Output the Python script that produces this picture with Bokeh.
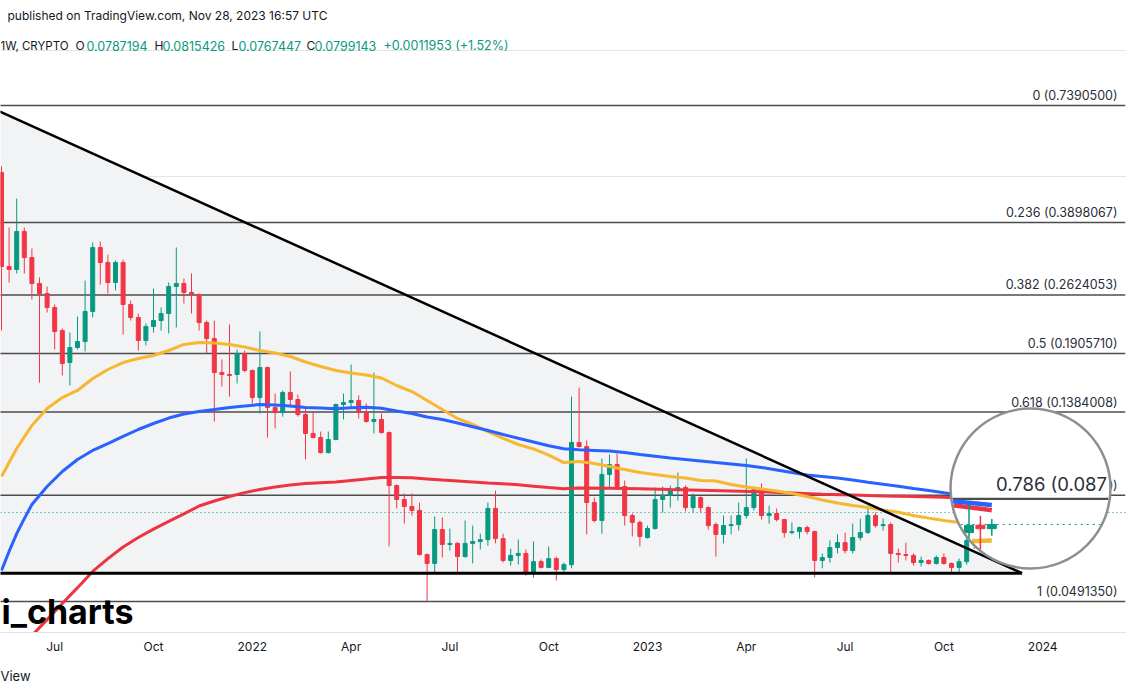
import math
from datetime import datetime, timedelta
from bokeh.plotting import figure
from bokeh.models import Range1d, FixedTicker, Title
from bokeh.core.properties import value
from bokeh.embed import file_html
from bokeh.resources import INLINE

# ---------------- data (weekly candles) ----------------
first_week = "2021-05-17"
opens = [0.5124, 0.3066, 0.3016, 0.3712, 0.3220, 0.2794, 0.2645, 0.2450, 0.2161, 0.1814,
         0.1969, 0.2035, 0.2397, 0.3401, 0.3133, 0.2809, 0.3133, 0.2491, 0.2320, 0.2046,
         0.2209, 0.2282, 0.2371, 0.2748, 0.2794, 0.2660, 0.2631, 0.2257, 0.2068, 0.1718,
         0.1699, 0.1699, 0.1906, 0.1737, 0.1498, 0.1765, 0.1419, 0.1380, 0.1540, 0.1482,
         0.1365, 0.1231, 0.1204, 0.1109, 0.1191, 0.1442, 0.1458, 0.1474, 0.1380, 0.1314,
         0.1329, 0.1237, 0.0926, 0.0858, 0.0826, 0.0808, 0.0635, 0.0605, 0.0728, 0.0671,
         0.0675, 0.0628, 0.0675, 0.0682, 0.0689, 0.0817, 0.0693, 0.0615, 0.0632, 0.0639,
         0.0573, 0.0611, 0.0592, 0.0621, 0.0585, 0.0601, 0.1172, 0.1146, 0.0844, 0.0765,
         0.0984, 0.1039, 0.0921, 0.0786, 0.0757, 0.0697, 0.0732, 0.0858, 0.0877, 0.0901,
         0.0916, 0.0821, 0.0867, 0.0821, 0.0748, 0.0709, 0.0744, 0.0748, 0.0786, 0.0821,
         0.0906, 0.0786, 0.0795, 0.0769, 0.0716, 0.0720, 0.0736, 0.0720, 0.0615, 0.0625,
         0.0660, 0.0678, 0.0649, 0.0697, 0.0716, 0.0786, 0.0744, 0.0748, 0.0639, 0.0635,
         0.0632, 0.0608, 0.0615, 0.0605, 0.0625, 0.0605, 0.0592, 0.0611, 0.0686, 0.0690,
         0.0776, 0.0797, 0.0787194]
highs = [0.5300, 0.3794, 0.4446, 0.3794, 0.3383, 0.2887, 0.2748, 0.2491, 0.2185, 0.2137,
         0.2333, 0.2840, 0.3495, 0.3515, 0.3273, 0.3168, 0.3185, 0.2546, 0.2371, 0.2245,
         0.2718, 0.2450, 0.2809, 0.3401, 0.2871, 0.2951, 0.2645, 0.2282, 0.2282, 0.1844,
         0.2233, 0.1948, 0.1937, 0.1745, 0.2149, 0.1775, 0.1531, 0.1557, 0.1727, 0.1523,
         0.1419, 0.1380, 0.1244, 0.1244, 0.1450, 0.1531, 0.1794, 0.1515, 0.1450, 0.1718,
         0.1373, 0.1244, 0.0931, 0.0887, 0.0887, 0.0844, 0.0639, 0.0782, 0.0778, 0.0732,
         0.0680, 0.0765, 0.0744, 0.0712, 0.0844, 0.0901, 0.0712, 0.0656, 0.0689, 0.0653,
         0.0682, 0.0618, 0.0664, 0.0628, 0.0608, 0.1506, 0.1582, 0.1185, 0.0867, 0.1073,
         0.1097, 0.1103, 0.0952, 0.0795, 0.0765, 0.0744, 0.0916, 0.0921, 0.0926, 0.0994,
         0.0926, 0.0887, 0.0872, 0.0826, 0.0757, 0.0786, 0.0786, 0.0844, 0.1073, 0.0921,
         0.0936, 0.0830, 0.0817, 0.0772, 0.0757, 0.0740, 0.0744, 0.0724, 0.0639, 0.0686,
         0.0709, 0.0716, 0.0752, 0.0773, 0.0830, 0.0799, 0.0773, 0.0757, 0.0656, 0.0678,
         0.0639, 0.0628, 0.0618, 0.0632, 0.0639, 0.0608, 0.0621, 0.0712, 0.0700, 0.0800,
         0.0862, 0.0825, 0.0815426]
lows = [0.2161, 0.2809, 0.2951, 0.2951, 0.2560, 0.1626, 0.2384, 0.1948, 0.1690, 0.1600,
        0.1948, 0.1927, 0.2320, 0.2778, 0.2645, 0.2689, 0.2114, 0.2282, 0.1937, 0.1991,
        0.2137, 0.2161, 0.2126, 0.2197, 0.2504, 0.2371, 0.2161, 0.1906, 0.1314, 0.1591,
        0.1506, 0.1617, 0.1718, 0.1450, 0.1373, 0.1204, 0.1265, 0.1350, 0.1419, 0.1350,
        0.1068, 0.1198, 0.1103, 0.1103, 0.1185, 0.1329, 0.1411, 0.1336, 0.1307, 0.1231,
        0.1231, 0.0664, 0.0817, 0.0752, 0.0786, 0.0632, 0.04914, 0.0573, 0.0625, 0.0649,
        0.0573, 0.0625, 0.0605, 0.0653, 0.0667, 0.0675, 0.0608, 0.0598, 0.0601, 0.0566,
        0.0560, 0.0589, 0.0589, 0.0551, 0.0573, 0.0589, 0.1140, 0.0709, 0.0757, 0.0712,
        0.0916, 0.0916, 0.0744, 0.0701, 0.0664, 0.0693, 0.0728, 0.0799, 0.0821, 0.0853,
        0.0804, 0.0799, 0.0799, 0.0728, 0.0628, 0.0675, 0.0709, 0.0724, 0.0773, 0.0808,
        0.0769, 0.0752, 0.0761, 0.0697, 0.0709, 0.0693, 0.0709, 0.0560, 0.0589, 0.0608,
        0.0639, 0.0639, 0.0639, 0.0686, 0.0712, 0.0736, 0.0724, 0.0573, 0.0608, 0.0615,
        0.0598, 0.0595, 0.0601, 0.0601, 0.0601, 0.0573, 0.0573, 0.0601, 0.0655, 0.0680,
        0.0738, 0.0710, 0.0767447]
closes = [0.3066, 0.3016, 0.3712, 0.3220, 0.2794, 0.2645, 0.2450, 0.2149, 0.1804, 0.1969,
          0.2035, 0.2397, 0.3401, 0.3133, 0.2809, 0.3133, 0.2491, 0.2320, 0.2046, 0.2209,
          0.2282, 0.2371, 0.2748, 0.2794, 0.2660, 0.2631, 0.2257, 0.2068, 0.1718, 0.1699,
          0.1690, 0.1906, 0.1737, 0.1498, 0.1765, 0.1419, 0.1380, 0.1540, 0.1482, 0.1365,
          0.1231, 0.1204, 0.1109, 0.1191, 0.1442, 0.1458, 0.1474, 0.1380, 0.1314, 0.1329,
          0.1237, 0.0926, 0.0858, 0.0826, 0.0808, 0.0635, 0.0605, 0.0728, 0.0671, 0.0675,
          0.0628, 0.0675, 0.0682, 0.0689, 0.0817, 0.0693, 0.0615, 0.0632, 0.0639, 0.0573,
          0.0611, 0.0592, 0.0621, 0.0585, 0.0601, 0.1172, 0.1146, 0.0844, 0.0765, 0.0984,
          0.1039, 0.0921, 0.0786, 0.0757, 0.0701, 0.0732, 0.0858, 0.0877, 0.0901, 0.0916,
          0.0821, 0.0872, 0.0821, 0.0744, 0.0709, 0.0744, 0.0748, 0.0786, 0.0821, 0.0906,
          0.0786, 0.0795, 0.0769, 0.0716, 0.0720, 0.0736, 0.0720, 0.0615, 0.0625, 0.0660,
          0.0678, 0.0649, 0.0697, 0.0716, 0.0786, 0.0744, 0.0748, 0.0639, 0.0635, 0.0632,
          0.0608, 0.0615, 0.0605, 0.0625, 0.0605, 0.0592, 0.0611, 0.0686, 0.0690, 0.0776,
          0.0797, 0.0787, 0.0799143]

# moving averages (week offset from first_week, value)
ma_yellow_weeks = list(range(0, 133, 2))
ma_yellow = [0.0973, 0.1134, 0.1286, 0.1411, 0.1498, 0.1557, 0.1662, 0.1746, 0.1814, 0.1854,
             0.1885, 0.1937, 0.2002, 0.2024, 0.2018, 0.2002, 0.1974, 0.1937, 0.1911, 0.1875,
             0.1819, 0.1775, 0.1737, 0.1713, 0.1694, 0.1667, 0.1600, 0.1548, 0.1474, 0.1403,
             0.1336, 0.1293, 0.1244, 0.1198, 0.1159, 0.1131, 0.1094, 0.1050, 0.1056, 0.1045,
             0.1028, 0.1011, 0.0994, 0.0984, 0.0973, 0.0965, 0.0952, 0.0949, 0.0931, 0.0919,
             0.0909, 0.0899, 0.0887, 0.0872, 0.0856, 0.0842, 0.0830, 0.0821, 0.0810, 0.0800,
             0.0786, 0.0775, 0.0765, 0.0757, 0.0752, 0.0752, 0.0754]
ma_blue_weeks = [0, 1, 2, 3] + list(range(4, 133, 2))
ma_blue = [0.0582, 0.0646, 0.0712, 0.0773, 0.0835, 0.0921, 0.1000, 0.1068, 0.1122, 0.1165,
           0.1211, 0.1258, 0.1300, 0.1339, 0.1369, 0.1388, 0.1403, 0.1419, 0.1430, 0.1442,
           0.1438, 0.1430, 0.1419, 0.1415, 0.1409, 0.1417, 0.1420, 0.1413, 0.1392, 0.1373,
           0.1347, 0.1329, 0.1303, 0.1277, 0.1251, 0.1224, 0.1199, 0.1175, 0.1151, 0.1132,
           0.1126, 0.1122, 0.1118, 0.1109, 0.1097, 0.1087, 0.1077, 0.1068, 0.1059, 0.1050,
           0.1042, 0.1033, 0.1022, 0.1008, 0.0994, 0.0981, 0.0973, 0.0965, 0.0954, 0.0943,
           0.0933, 0.0923, 0.0911, 0.0901, 0.0890, 0.0879, 0.0872, 0.0865, 0.0858]
ma_red_weeks = list(range(4, 77, 2)) + list(range(80, 133, 4))
ma_red = [0.0408, 0.0445, 0.0486, 0.0530, 0.0579, 0.0621, 0.0662, 0.0697, 0.0730, 0.0761,
          0.0793, 0.0828, 0.0851, 0.0872, 0.0891, 0.0906, 0.0919, 0.0929, 0.0936, 0.0940,
          0.0944, 0.0952, 0.0960, 0.0968, 0.0968, 0.0966, 0.0960, 0.0954, 0.0949, 0.0944,
          0.0939, 0.0935, 0.0930, 0.0923, 0.0916, 0.0910, 0.0914,
          0.0913, 0.0910, 0.0906, 0.0903, 0.0899, 0.0895, 0.0889, 0.0883, 0.0879, 0.0875,
          0.0872, 0.0869, 0.0860, 0.0842]

# fibonacci retracement drawing
fib_levels = ["0", "0.236", "0.382", "0.5", "0.618", "0.786", "1"]
fib_prices = [0.7390500, 0.3898067, 0.2624053, 0.1905710, 0.1384008, 0.0877740, 0.0491350]
fib_start = "2021-05-03"
fib_end = "2024-03-17"

# descending triangle drawing
tri_start = "2021-05-03"
tri_top = 0.7390500
tri_apex = "2023-12-13"
tri_base = 0.05735

# time axis
tick_dates = ["2021-07-05", "2021-10-04", "2022-01-03", "2022-04-04", "2022-07-04", "2022-10-03",
              "2023-01-02", "2023-04-03", "2023-07-03", "2023-10-02", "2024-01-01"]
tick_labels = ["Jul", "Oct", "2022", "Apr", "Jul", "Oct", "2023", "Apr", "Jul", "Oct", "2024"]

# legend texts
legend_symbol = "1W, CRYPTO"
legend_change = "+0.0011953 (+1.52%)"

# ---------------- helpers ----------------
EPOCH = datetime(1970, 1, 1)
def ms(d):
    return (d - EPOCH).total_seconds() * 1000.0
def day(s):
    return datetime.strptime(s, "%Y-%m-%d")

X_START = ms(datetime(2021, 5, 16, 1, 53))
X_END = ms(datetime(2024, 3, 18, 4, 24))
Y_TOP, Y_BOTTOM = 1.1381, 0.04148
FRAME_W, FRAME_H = 1126, 606
FL, FT = 0.0, 26.0   # frame position on the page
LT, LB = math.log(Y_TOP), math.log(Y_BOTTOM)
PX_PER_MS = FRAME_W / (X_END - X_START)

def to_px(t, v):
    return FL + (t - X_START) * PX_PER_MS, FT + (LT - math.log(v)) * FRAME_H / (LT - LB)
def from_px(x, y):
    return X_START + (x - FL) / PX_PER_MS, math.exp(LT - (y - FT) * (LT - LB) / FRAME_H)

GREEN, RED = "#089981", "#f23645"
C_YEL, C_BLUE, C_RED = "#f7b731", "#2962ff", "#ee3440"
FONT = "Inter"
TXT = "#131722"

t0 = day(first_week)
n = len(closes)
ct = [ms(t0 + timedelta(weeks=i)) for i in range(n)]
colors = [GREEN if c >= o else RED for o, c in zip(opens, closes)]

p = figure(x_axis_type="datetime", y_axis_type="log", y_axis_location=None,
           x_range=Range1d(X_START, X_END), y_range=Range1d(Y_BOTTOM, Y_TOP),
           frame_width=FRAME_W, frame_height=FRAME_H,
           min_border_left=0, min_border_right=14, min_border_top=26, min_border_bottom=62,
           output_backend="svg", toolbar_location=None,
           title="published on TradingView.com, Nov 28, 2023 16:57 UTC",
           background_fill_color="white", border_fill_color="white")
p.outline_line_color = None
p.xgrid.visible = False
p.title.text_font = FONT
p.title.text_font_size = "12px"
p.title.text_font_style = "normal"
p.title.text_color = TXT
p.title.standoff = 7
p.title.offset = 7

ax = p.xaxis[0]
tick_ms = [int(ms(day(d))) for d in tick_dates]
ax.ticker = FixedTicker(ticks=tick_ms)
ax.major_label_overrides = {t: lab for t, lab in zip(tick_ms, tick_labels)}
ax.major_tick_line_color = None
ax.minor_tick_line_color = None
ax.axis_line_color = "#e0e3eb"
ax.major_label_standoff = 0
ax.major_label_text_font = FONT
ax.major_label_text_font_size = "12px"
ax.major_label_text_color = TXT
p.add_layout(Title(text="View", align="left", text_font=FONT, text_font_size="13px",
                   text_font_style="normal", text_color=TXT, standoff=18), "below")

# triangle fill
ts, ta = ms(day(tri_start)), ms(day(tri_apex))
p.patch([ts, ta, ts], [tri_top, tri_base, tri_base], fill_color="#f2f3f5", line_color=None)

# fib lines + labels
fs, fe = ms(day(fib_start)), ms(day(fib_end))
p.segment(x0=[fs] * len(fib_prices), y0=fib_prices, x1=[fe] * len(fib_prices), y1=fib_prices,
          line_color="#4c4c4c", line_width=1.5)
fib_text = ["%s (%.7f)" % (l, v) for l, v in zip(fib_levels, fib_prices)]
lab_x = from_px(1117, 0)[0]
p.text(x=[lab_x] * len(fib_prices), y=fib_prices, text=fib_text, text_align="right",
       text_baseline="middle", y_offset=-10, text_font=value(FONT), text_font_size="12.5px",
       text_color="#2a2e39")

# current price dotted line
p.line([X_START, X_END], [closes[-1], closes[-1]], line_color=GREEN, line_width=1, line_dash="1 3")

# candles
body_w = 4.0 / PX_PER_MS
p.segment(x0=ct, y0=lows, x1=ct, y1=highs, line_color=colors, line_width=1)
p.vbar(x=ct, width=body_w, top=[max(o, c) for o, c in zip(opens, closes)],
       bottom=[min(o, c) for o, c in zip(opens, closes)], fill_color=colors, line_color=colors,
       line_width=1)

# moving averages
def ma_x(weeks):
    return [ms(t0 + timedelta(weeks=w)) for w in weeks]
ma_sets = [(ma_red_weeks, ma_red, C_RED), (ma_yellow_weeks, ma_yellow, C_YEL), (ma_blue_weeks, ma_blue, C_BLUE)]
for wk, vals, col in ma_sets:
    p.line(ma_x(wk), vals, line_color=col, line_width=3)

# triangle outline
p.line([ts, ta], [tri_top, tri_base], line_color="black", line_width=2.5)
p.line([ts, ta], [tri_base, tri_base], line_color="black", line_width=3)

# ---------------- magnifier lens ----------------
LCX, LCY, LR, LK = 1030.0, 488.0, 80.0, 1.5
def mag(x, y):
    return LCX + LK * (x - LCX), LCY + LK * (y - LCY)
def inside(x, y, pad=1.0):
    return (x - LCX) ** 2 + (y - LCY) ** 2 <= (LR - pad) ** 2

def lens_line(xs, vs, step=0.5):
    pts = [to_px(t, v) for t, v in zip(xs, vs)]
    ox, oy = [], []
    for (x0, y0), (x1, y1) in zip(pts[:-1], pts[1:]):
        if max(x0, x1) < LCX - LR or min(x0, x1) > LCX + LR:
            continue
        k = max(1, int(math.hypot(x1 - x0, y1 - y0) / step))
        for i in range(k + 1):
            mx, my = mag(x0 + (x1 - x0) * i / k, y0 + (y1 - y0) * i / k)
            if inside(mx, my):
                t, v = from_px(mx, my)
                ox.append(t); oy.append(v)
            elif ox and not math.isnan(oy[-1]):
                ox.append(float("nan")); oy.append(float("nan"))
    return ox, oy

lcx_t, lcy_v = from_px(LCX, LCY)
p.scatter([lcx_t], [lcy_v], size=2 * LR, marker="circle", fill_color="white", line_color=None)

def near_lens(x0, x1, v):
    a = from_px(LCX - LR, 0)[0]
    b = from_px(LCX + LR, 0)[0]
    return [max(x0, a), min(x1, b)], [v, v]
lx, ly = lens_line(*near_lens(fs, fe, fib_prices[5]))
p.line(lx, ly, line_color="#4c4c4c", line_width=1.5 * LK)
lx, ly = lens_line(*near_lens(X_START, X_END, closes[-1]))
p.line(lx, ly, line_color=GREEN, line_width=1.2, line_dash="2 4")
for wk, vals, col in ma_sets:
    lx, ly = lens_line(ma_x(wk), vals)
    p.line(lx, ly, line_color=col, line_width=3 * LK)

lw_x0, lw_y0, lw_x1, lw_y1, lw_c = [], [], [], [], []
lb_l, lb_r, lb_t, lb_b, lb_c = [], [], [], [], []
for t, o, h, l, c, col in zip(ct, opens, highs, lows, closes, colors):
    x, _ = to_px(t, c)
    mx = LCX + LK * (x - LCX)
    if abs(mx - LCX) >= LR - 2:
        continue
    half = math.sqrt(LR ** 2 - (mx - LCX) ** 2) - 1
    top_lim, bot_lim = LCY - half, LCY + half
    my = lambda v: LCY + LK * (to_px(t, v)[1] - LCY)
    wt, wb = max(my(h), top_lim), min(my(l), bot_lim)
    bt, bb = max(my(max(o, c)), top_lim), min(my(min(o, c)), bot_lim)
    tx = from_px(mx, 0)[0]
    if wt < wb:
        lw_x0.append(tx); lw_x1.append(tx)
        lw_y0.append(from_px(mx, wt)[1]); lw_y1.append(from_px(mx, wb)[1]); lw_c.append(col)
    if bt <= bb:
        lb_l.append(from_px(mx - 3.0 * LK, 0)[0]); lb_r.append(from_px(mx + 3.0 * LK, 0)[0])
        lb_t.append(from_px(0, bt)[1]); lb_b.append(from_px(0, bb)[1]); lb_c.append(col)
p.segment(x0=lw_x0, y0=lw_y0, x1=lw_x1, y1=lw_y1, line_color=lw_c, line_width=1.5)
p.quad(left=lb_l, right=lb_r, top=lb_t, bottom=lb_b, fill_color=lb_c, line_color=lb_c, line_width=1)

fy = to_px(0, fib_prices[5])[1] - 10
mlx, mly = mag(1007, fy)
tx, tv = from_px(mlx, mly)
p.text(x=[tx], y=[tv], text=["0.786 (0.087"], text_align="left", text_baseline="middle",
       text_font=value(FONT), text_font_size="18.5px", text_color="#2a2e39")

p.scatter([lcx_t], [lcy_v], size=2 * LR, marker="circle", fill_color=None,
          line_color="#8f8f8f", line_width=2.5)

# ---------------- legend / watermark ----------------
def put(px_x, px_y, s, col, size="12px", style="normal"):
    tx, tv = from_px(px_x, px_y)
    p.text(x=[tx], y=[tv], text=[s], text_align="left", text_baseline="middle",
           text_font=value(FONT), text_font_size=size, text_font_style=style, text_color=col)

put(0, 45, legend_symbol, TXT, size="11.5px")
pieces = [(75, 86, "O", opens[-1]), (154, 162, "H", highs[-1]), (231, 238, "L", lows[-1]),
          (306, 314, "C", closes[-1])]
for xk, xv, key, v in pieces:
    put(xk, 45, key, TXT)
    put(xv, 45, "%.7f" % v, GREEN, size="12.5px")
put(383, 45, legend_change, GREEN, size="12.5px")
put(1, 611, "i_charts", "black", size="34px", style="bold")

open("out.html", "w").write(file_html(p, INLINE))
